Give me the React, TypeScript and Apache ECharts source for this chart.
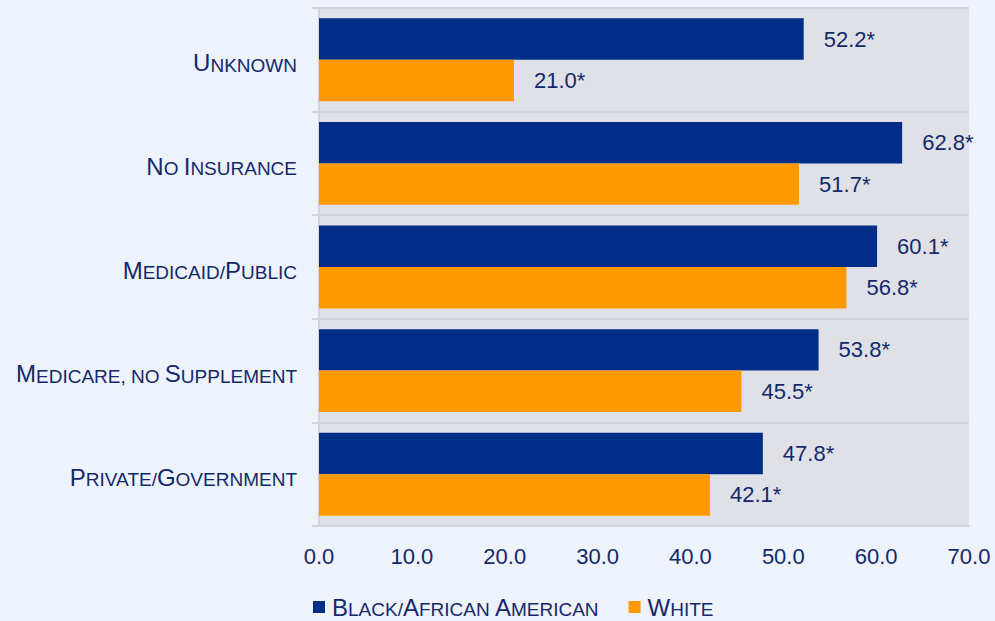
import React, { useEffect, useRef } from "react";
import * as echarts from "echarts";

const categories = [
  "Unknown",
  "No Insurance",
  "Medicaid/Public",
  "Medicare, no Supplement",
  "Private/Government",
];
const blackValues = [52.2, 62.8, 60.1, 53.8, 47.8];
const whiteValues = [21.0, 51.7, 56.8, 45.5, 42.1];
const seriesNames = ["Black/African American", "White"];
const xTicks = { min: 0, max: 70, interval: 10 };

const TEXT = "#13296b";
const FONT = "'Liberation Sans', Arial, sans-serif";

function smallCaps(s: string): string {
  let out = "";
  let buf = "";
  let mode: "b" | "s" | "" = "";
  const flush = () => {
    if (buf) out += `{${mode}|${buf}}`;
    buf = "";
  };
  for (const ch of s) {
    const isBig = ch >= "A" && ch <= "Z";
    const m: "b" | "s" = isBig ? "b" : "s";
    if (m !== mode) {
      flush();
      mode = m;
    }
    buf += ch.toUpperCase();
  }
  flush();
  return out;
}

const rich = {
  b: { fontSize: 24, lineHeight: 24, verticalAlign: "bottom", color: TEXT, fontFamily: FONT },
  s: { fontSize: 19, lineHeight: 19, verticalAlign: "bottom", color: TEXT, fontFamily: FONT },
};

export default function App() {
  const ref = useRef<HTMLDivElement>(null);
  useEffect(() => {
    document.body.style.margin = "0";
    const chart = echarts.init(ref.current!, null, { renderer: "svg" });
    const label = {
      show: true,
      position: "right",
      distance: 20,
      color: TEXT,
      fontSize: 22,
      fontFamily: FONT,
      formatter: (p: any) => Number(p.value).toFixed(1) + "*",
    };
    chart.setOption({
      animation: false,
      backgroundColor: "#eef2fa",
      textStyle: { fontFamily: FONT },
      grid: {
        left: 319,
        right: 26,
        top: 8,
        bottom: 95,
        show: true,
        backgroundColor: "#e0e1e7",
        borderWidth: 0,
      },
      legend: {
        left: 308,
        top: 590,
        itemWidth: 12,
        itemHeight: 12,
        itemGap: 30,
        icon: "rect",
        data: seriesNames,
        formatter: (n: string) => smallCaps(n),
        textStyle: { rich, padding: [0, 0, 0, 2] },
      },
      xAxis: {
        type: "value",
        min: xTicks.min,
        max: xTicks.max,
        interval: xTicks.interval,
        axisLine: { show: true, lineStyle: { color: "#d3d4d8", width: 2 } },
        axisTick: { show: false },
        splitLine: { show: false },
        axisLabel: {
          margin: 19,
          color: TEXT,
          fontSize: 22,
          fontFamily: FONT,
          formatter: (v: number) => v.toFixed(1),
        },
      },
      yAxis: {
        type: "category",
        inverse: true,
        data: categories,
        axisLine: { show: true, lineStyle: { color: "#d3d4d8", width: 2 } },
        axisTick: { show: true, length: 7, lineStyle: { color: "#d3d4d8", width: 2 } },
        splitLine: { show: true, lineStyle: { color: "#d4d5db", width: 2 } },
        axisLabel: {
          margin: 22,
          padding: [6, 0, 0, 0],
          formatter: (v: string) => smallCaps(v),
          rich,
        },
      },
      series: [
        {
          name: seriesNames[0],
          type: "bar",
          data: blackValues,
          itemStyle: { color: "#002d87" },
          barGap: "0%",
          barCategoryGap: "20%",
          label,
        },
        {
          name: seriesNames[1],
          type: "bar",
          data: whiteValues,
          itemStyle: { color: "#ff9900" },
          barGap: "0%",
          barCategoryGap: "20%",
          label,
        },
      ],
    });
    return () => chart.dispose();
  }, []);
  return <div ref={ref} style={{ width: 995, height: 621 }} />;
}
